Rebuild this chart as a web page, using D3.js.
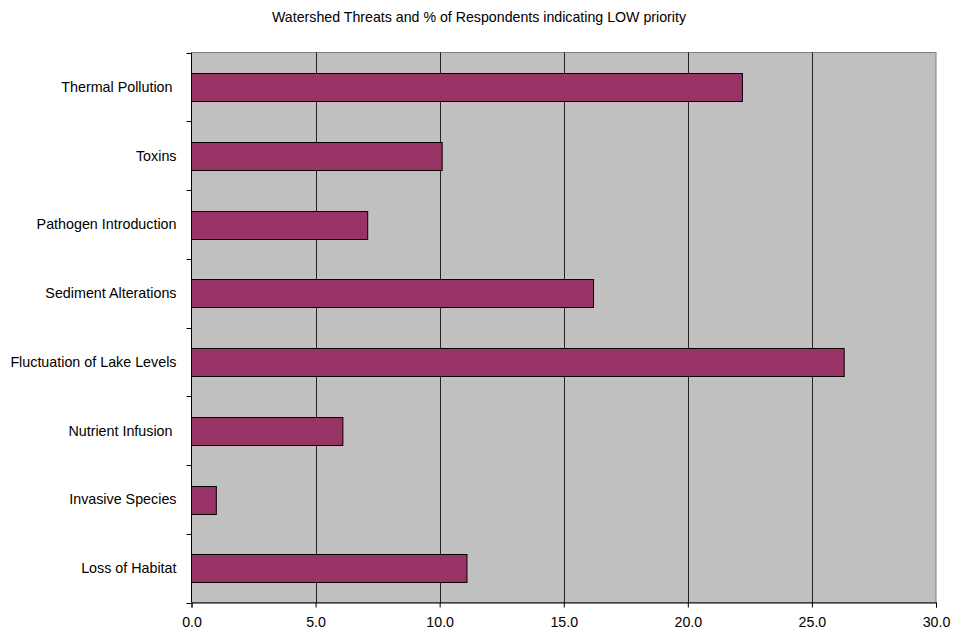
<!DOCTYPE html>
<html>
<head>
<meta charset="utf-8">
<script src="https://cdn.jsdelivr.net/npm/d3@7"></script>
<style>
  html, body { margin: 0; padding: 0; background: #ffffff; }
  svg { display: block; }
  text { font-family: "Liberation Sans", Arial, sans-serif; fill: #000; }
</style>
</head>
<body>
<svg id="chart" width="953" height="632"></svg>
<script>
// Data (top to bottom as displayed)
const categories = [
  "Thermal Pollution ",
  "Toxins",
  "Pathogen Introduction",
  "Sediment Alterations",
  "Fluctuation of Lake Levels",
  "Nutrient Infusion ",
  "Invasive Species",
  "Loss of Habitat"
];
const values = [22.2, 10.1, 7.1, 16.2, 26.3, 6.1, 1.0, 11.1];
const xTicks = [0, 5, 10, 15, 20, 25, 30];
const titleText = "Watershed Threats and % of Respondents indicating LOW priority";

const svg = d3.select("#chart");
const plot = { left: 191.5, top: 52.5, right: 936, bottom: 602.5 };

const x = d3.scaleLinear().domain([0, 30]).range([plot.left, plot.right]);
const y = d3.scaleBand().domain(categories).range([plot.top, plot.bottom]).paddingInner(0.6).paddingOuter(0.3);
const yb = d3.scaleBand().domain(categories).range([plot.top, plot.bottom]);

// Title
svg.append("text")
  .attr("x", 479).attr("y", 22)
  .attr("text-anchor", "middle")
  .style("font-size", "14.2px")
  .text(titleText);

// Plot background
svg.append("rect")
  .attr("x", plot.left).attr("y", plot.top)
  .attr("width", plot.right - plot.left).attr("height", plot.bottom - plot.top)
  .attr("fill", "#c0c0c0")
  .attr("stroke", "#808080").attr("stroke-width", 1);

// Gridlines
svg.append("g").selectAll("line")
  .data(xTicks.filter(d => d > 0 && d < 30))
  .join("line")
  .attr("x1", d => Math.round(x(d)) + 0.5).attr("x2", d => Math.round(x(d)) + 0.5)
  .attr("y1", plot.top).attr("y2", plot.bottom)
  .attr("stroke", "#222").attr("stroke-width", 1);

// Bars
svg.append("g").selectAll("rect")
  .data(categories)
  .join("rect")
  .attr("x", x(0))
  .attr("y", (d) => Math.round(y(d)) + 0.5)
  .attr("width", (d, i) => x(values[i]) - x(0))
  .attr("height", Math.round(y.bandwidth()))
  .attr("fill", "#993366")
  .attr("stroke", "#000").attr("stroke-width", 1);

// Y axis
const yAxisG = svg.append("g").attr("transform", `translate(${plot.left},0)`);
yAxisG.append("line")
  .attr("x1", 0).attr("x2", 0).attr("y1", plot.top).attr("y2", plot.bottom)
  .attr("stroke", "#000");
const bounds = categories.map(c => yb(c)).concat([plot.bottom]);
yAxisG.selectAll("line.tick")
  .data(bounds)
  .join("line").attr("class", "tick")
  .attr("x1", -5).attr("x2", 0)
  .attr("y1", d => Math.round(d) + 0.5).attr("y2", d => Math.round(d) + 0.5)
  .attr("stroke", "#000");
yAxisG.selectAll("text")
  .data(categories)
  .join("text")
  .attr("x", -15)
  .attr("y", d => yb(d) + yb.bandwidth() / 2)
  .attr("dy", "0.35em")
  .attr("text-anchor", "end")
  .attr("xml:space", "preserve")
  .style("white-space", "pre")
  .style("font-size", "14.3px")
  .text(d => d);

// X axis
const xAxis = d3.axisBottom(x)
  .tickValues(xTicks)
  .tickSize(5)
  .tickPadding(9)
  .tickFormat(d3.format(".1f"));
const xAxisG = svg.append("g")
  .attr("transform", `translate(0,${plot.bottom})`)
  .call(xAxis);
xAxisG.select(".domain").attr("stroke", "#000");
xAxisG.selectAll(".tick line").attr("stroke", "#000");
xAxisG.selectAll(".tick text")
  .style("font-family", "'Liberation Sans', Arial, sans-serif")
  .style("font-size", "14.2px")
  .attr("fill", "#000");
</script>
</body>
</html>
